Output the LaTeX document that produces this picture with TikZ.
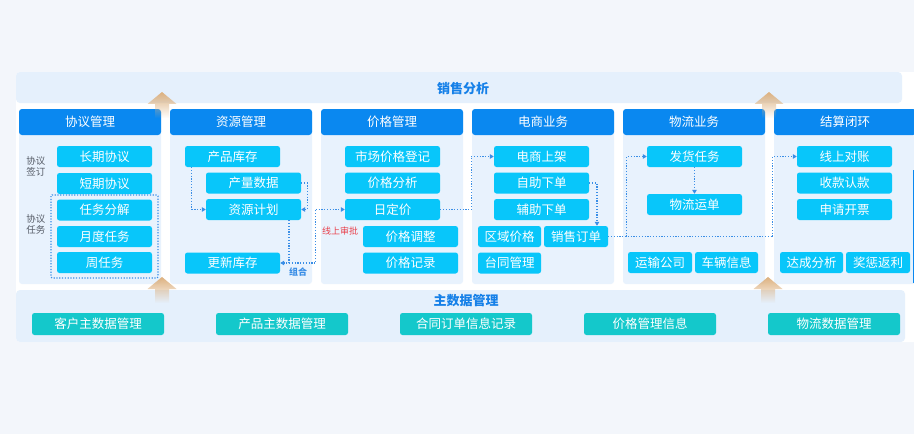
\documentclass[tikz,border=0pt]{standalone}
\usepackage{fontspec}
\setmainfont{Noto Sans CJK SC}
\usetikzlibrary{arrows.meta,calc,fadings}
\definecolor{pagebg}{HTML}{F3F6FB}
\definecolor{bandbg}{HTML}{E5F0FC}
\definecolor{colbg}{HTML}{E8F2FD}
\definecolor{hdrblue}{HTML}{0A88F0}
\definecolor{cyanbox}{HTML}{08C6FA}
\definecolor{tealbox}{HTML}{14C8CB}
\definecolor{titleblue}{HTML}{1580E8}
\definecolor{flowblue}{HTML}{3A8EE6}
\definecolor{redtxt}{HTML}{E8414C}
\definecolor{sidegray}{HTML}{555B66}
\definecolor{tan}{HTML}{DDB17F}
\tikzset{
  cbox/.style={fill=cyanbox, rounded corners=2.5pt, text=white, inner sep=0pt,
    minimum width=95pt, minimum height=21pt, font=\fontsize{12.5}{14}\selectfont},
  tbox/.style={fill=tealbox, rounded corners=2.5pt, text=white, inner sep=0pt,
    minimum width=132pt, minimum height=22pt, font=\fontsize{12.5}{14}\selectfont},
  hdr/.style={fill=hdrblue, rounded corners=3pt, text=white, inner sep=0pt,
    minimum width=142pt, minimum height=26pt, font=\fontsize{12.5}{14}\selectfont},
  sidelbl/.style={text=sidegray, align=center, inner sep=0pt, font=\fontsize{9.5}{11}\selectfont},
  flow/.style={draw=flowblue, line width=1.2pt, dash pattern=on 1.2pt off 1.6pt,
    -{Triangle[length=4pt,width=4.5pt]}},
  flowplain/.style={draw=flowblue, line width=1.2pt, dash pattern=on 1.2pt off 1.6pt},
  uparrow/.style={fill=tan, path fading=south}
}
\begin{document}
\begin{tikzpicture}[x=1pt,y=-1pt]
\useasboundingbox (0,0) rectangle (914,434);
\fill[pagebg] (0,0) rectangle (914,434);
% container
\fill[white, rounded corners=4pt] (16,72) rectangle (930,342);
% top band
\fill[bandbg, rounded corners=4pt] (16,72) rectangle (902,103);
\node[text=titleblue, font=\fontsize{13}{15}\selectfont\bfseries] (ttl) at (463,88.5) {销售分析};
% bottom panel
\fill[bandbg, rounded corners=4pt] (16,290) rectangle (905,342);
\node[text=titleblue, font=\fontsize{13}{15}\selectfont\bfseries] (ttl2) at (466,301) {主数据管理};

% columns
\foreach \cx in {90,241,392,543,694,845}{
  \fill[colbg, rounded corners=3pt] (\cx-71,109) rectangle (\cx+71,284);
}
\node[hdr] (h1) at (90,122) {协议管理};
\node[hdr] (h2) at (241,122) {资源管理};
\node[hdr] (h3) at (392,122) {价格管理};
\node[hdr] (h4) at (543,122) {电商业务};
\node[hdr] (h5) at (694,122) {物流业务};
\node[hdr] (h6) at (845,122) {结算闭环};

% column 1
\node[sidelbl] (sl1) at (36,166) {协议\\签订};
\node[sidelbl] (sl2) at (36,224) {协议\\任务};
\draw[flowplain, rounded corners=1pt] (51,195) rectangle (158,278);
\node[cbox] (a1) at (104.5,156.5) {长期协议};
\node[cbox] (a2) at (104.5,183.5) {短期协议};
\node[cbox] (a3) at (104.5,210) {任务分解};
\node[cbox] (a4) at (104.5,236.5) {月度任务};
\node[cbox] (a5) at (104.5,262.5) {周任务};

% column 2
\node[cbox] (b1) at (232.5,156.5) {产品库存};
\node[cbox] (b2) at (253.5,183) {产量数据};
\node[cbox] (b3) at (253.5,209.5) {资源计划};
\node[cbox] (b4) at (232.5,263) {更新库存};
\node[text=flowblue, inner sep=0pt, font=\fontsize{9}{10}\selectfont\bfseries] (zh) at (298,272) {组合};

% column 3
\node[cbox] (p1) at (392.5,156.5) {市场价格登记};
\node[cbox] (p2) at (392.5,183) {价格分析};
\node[cbox] (p3) at (392.5,209.5) {日定价};
\node[cbox] (p4) at (410.5,236.5) {价格调整};
\node[cbox] (p5) at (410.5,263) {价格记录};
\node[text=redtxt, inner sep=0pt, font=\fontsize{9}{10}\selectfont] (sp) at (340,231) {线上审批};

% column 4
\node[cbox] (e1) at (541.5,156.5) {电商上架};
\node[cbox] (e2) at (541.5,183) {自助下单};
\node[cbox] (e3) at (541.5,209.5) {辅助下单};
\node[cbox, minimum width=63pt] (e4) at (509.5,236.5) {区域价格};
\node[cbox, minimum width=64pt] (e5) at (576,236.5) {销售订单};
\node[cbox, minimum width=63pt] (e6) at (509.5,263) {台同管理};

% column 5
\node[cbox] (f1) at (694.5,156.5) {发货任务};
\node[cbox] (f2) at (694.5,204.5) {物流运单};
\node[cbox, minimum width=64pt] (f3) at (660,262.5) {运输公司};
\node[cbox, minimum width=63pt] (f4) at (726.5,262.5) {车辆信息};

% column 6
\node[cbox] (s1) at (844.5,156.5) {线上对账};
\node[cbox] (s2) at (844.5,183) {收款认款};
\node[cbox] (s3) at (844.5,209.5) {申请开票};
\node[cbox, minimum width=63pt] (s4) at (811.5,262.5) {达成分析};
\node[cbox, minimum width=64pt] (s5) at (878,262.5) {奖惩返利};

% master data boxes
\node[tbox] (m1) at (98,324) {客户主数据管理};
\node[tbox] (m2) at (282,324) {产品主数据管理};
\node[tbox] (m3) at (466,324) {合同订单信息记录};
\node[tbox] (m4) at (650,324) {价格管理信息};
\node[tbox] (m5) at (834,324) {物流数据管理};

% connectors
\draw[flow] ([xshift=7pt]b1.south west) |- (b3.west);
\draw[flow] (b2.east) -- ++(6,0) |- (b3.east);
\coordinate (jtop) at ([xshift=35.5pt]b3.south);
\coordinate (j) at (jtop |- b4.east);
\draw[flow] (jtop) |- (b4.east);
\coordinate (jp) at ([xshift=-29pt]p3.west);
\draw[flowplain] (j) -| (jp);
\draw[flow] (jp) -- (p3.west);
\draw[flow] (p3.east) -- ++(31,0) |- (e1.west);
\draw[flow] (e2.east) -| ([xshift=21pt]e5.north);
\coordinate (ks) at ([xshift=-24pt]s1.west);
\coordinate (k) at (ks |- e5.east);
\draw[flowplain] (e5.east) -- (k);
\draw[flow] (k) |- (s1.west);
\coordinate (kf) at ([xshift=-20pt]f1.west);
\coordinate (k2) at (kf |- e5.east);
\draw[flow] (k2) |- (f1.west);
\draw[flow] (f1.south) -- (f2.north);

% tan arrows
\foreach \ax/\ay in {162/92, 769/92, 162/277, 768/277}{
  \fill[uparrow] (\ax,\ay) -- (\ax+14.5,\ay+12) -- (\ax+7,\ay+12) -- (\ax+7,\ay+26)
    -- (\ax-7,\ay+26) -- (\ax-7,\ay+12) -- (\ax-14.5,\ay+12) -- cycle;
}
% right edge line
\fill[hdrblue] (912.5,170) rectangle (914,283);
\end{tikzpicture}
\end{document}
